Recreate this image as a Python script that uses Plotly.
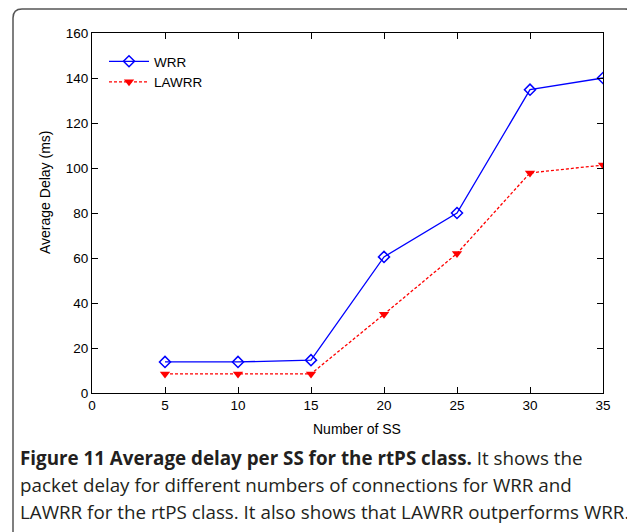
import plotly.graph_objects as go

num_ss = [5, 10, 15, 20, 25, 30, 35]
wrr = [13.8, 13.8, 14.6, 60.5, 80.0, 134.8, 140.0]
lawrr = [8.5, 8.5, 8.5, 35.0, 62.0, 97.8, 101.3]
x_ticks = [0, 5, 10, 15, 20, 25, 30, 35]
y_ticks = [0, 20, 40, 60, 80, 100, 120, 140, 160]

OFF = 8  # page body margin
W, H = 635 - OFF, 532 - OFF
L, R, T, B = 92 - OFF, 32, 33 - OFF, 139
pw, ph = W - L - R, H - T - B

def px(x):  # screenshot x -> paper
    return (x - OFF - L) / pw

def py(y):  # screenshot y -> paper
    return (H - B - (y - OFF)) / ph

fig = go.Figure()
fig.add_trace(go.Scatter(x=num_ss, y=wrr, name="WRR", mode="lines+markers",
                         line=dict(color="#0000ff", width=1.3),
                         marker=dict(symbol="diamond-open", size=8.5, color="#0000ff",
                                     line=dict(width=1.5, color="#0000ff"))))
fig.add_trace(go.Scatter(x=num_ss, y=lawrr, name="LAWRR", mode="lines+markers",
                         line=dict(color="#ff0000", width=1.3, dash="3px,2px"),
                         marker=dict(symbol="triangle-down", size=9, color="#ff0000")))

axis_common = dict(showgrid=False, zeroline=False, showline=True, linecolor="black",
                   linewidth=1.2, mirror="ticks", ticks="inside", ticklen=6,
                   tickcolor="black", tickwidth=1,
                   tickfont=dict(family="Liberation Sans, Arial", size=13.5, color="black"))

fig.update_xaxes(range=[0, 35], tickvals=x_ticks, **axis_common)
fig.update_yaxes(range=[0, 160], tickvals=y_ticks, **axis_common)

title_font = dict(family="Liberation Sans, Arial", size=14, color="black")
fig.add_annotation(text="Number of SS", xref="paper", yref="paper", x=px(357), y=py(429),
                   xanchor="center", yanchor="middle", showarrow=False, font=title_font)
fig.add_annotation(text="Average Delay (ms)", xref="paper", yref="paper", x=px(45), y=py(193),
                   xanchor="center", yanchor="middle", textangle=-90, showarrow=False,
                   font=title_font)

# rounded frame around the figure
x0, x1 = px(13), px(634)
y0, y1 = py(560), py(9)
rx, ry = 9 / pw, 9 / ph
path = (f"M {x0},{y0} L {x0},{y1 - ry} Q {x0},{y1} {x0 + rx},{y1} "
        f"L {x1 - rx},{y1} Q {x1},{y1} {x1},{y1 - ry} L {x1},{y0}")
fig.add_shape(type="path", path=path, xref="paper", yref="paper",
              line=dict(color="#555555", width=1.5))

cap_font = dict(family="Open Sans, Noto Sans", size=18.8, color="#231f20")
captions = [
    "<b>Figure 11 Average delay per SS for the rtPS class.</b> It shows the",
    "packet delay for different numbers of connections for WRR and",
    "LAWRR for the rtPS class. It also shows that LAWRR outperforms WRR.",
]
for i, c in enumerate(captions):
    fig.add_annotation(text=c, xref="paper", yref="paper", x=px(18), y=py(458 + 27 * i),
                       xanchor="left", yanchor="middle", showarrow=False, font=cap_font)

fig.update_layout(
    width=W, height=H, margin=dict(l=L, r=R, t=T, b=B),
    paper_bgcolor="white", plot_bgcolor="white",
    showlegend=True,
    legend=dict(x=px(104), y=py(46), xanchor="left", yanchor="top", bgcolor="rgba(0,0,0,0)",
                font=dict(family="Liberation Sans, Arial", size=13.5, color="black"),
                itemwidth=40, tracegroupgap=0),
)

fig.write_html("out.html")
